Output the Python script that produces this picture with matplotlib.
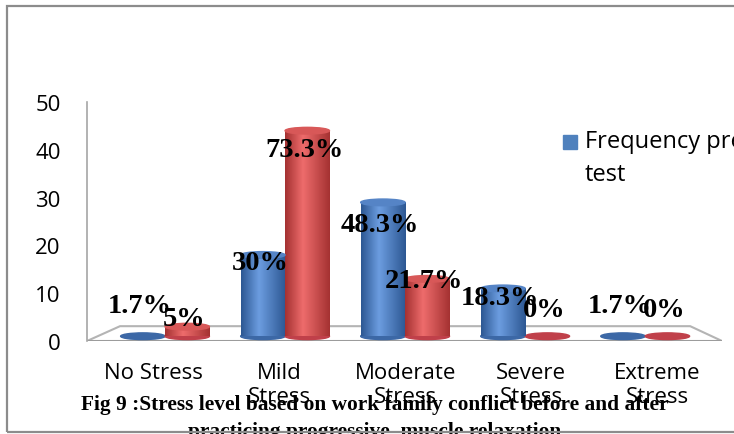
import numpy as np
import matplotlib.pyplot as plt
from matplotlib.patches import Rectangle, Ellipse, Polygon
from matplotlib.colors import LinearSegmentedColormap

# Stress categories and respondent counts (n = 60) before / after relaxation
categories = ["No Stress", "Mild\nStress", "Moderate\nStress", "Severe\nStress", "Extreme\nStress"]
pre_test = [1, 18, 29, 11, 1]
post_test = [3, 44, 13, 0, 0]
total = 60
legend_label = "Frequency pre\ntest"
caption = "Fig 9 :Stress level based on work family conflict before and after"
caption2 = "practicing progressive  muscle relaxation"

# label nudges (pixels) relative to each bar top
pre_dy = [24, -14, -29, -16, 24]
post_dy = [2, -25, -8, 25, 25]

plt.rcParams["font.family"] = "Open Sans"

fig = plt.figure(figsize=(7.34, 4.35), dpi=100)
ax = fig.add_axes([87 / 734, 93 / 435, 635 / 734, 239 / 435])

blue_map = LinearSegmentedColormap.from_list("b", [(0, "#2D5893"), (0.4, "#6C9DE0"), (1, "#2D5893")])
red_map = LinearSegmentedColormap.from_list("r", [(0, "#A53232"), (0.4, "#EE6C6C"), (1, "#A53232")])
grad = np.linspace(0, 1, 64)[None, :]

width = 0.37
base = 1.0
cap_h = 1.4


def cylinder(xc, top, cmap, cap_color, base_color):
    x0, x1 = xc - width / 2, xc + width / 2
    ax.add_patch(Ellipse((xc, base), width, cap_h, color=base_color, zorder=2))
    if top > base:
        ax.imshow(grad, cmap=cmap, extent=(x0, x1, base, top), aspect="auto", zorder=3)
        ax.add_patch(Ellipse((xc, top), width, cap_h, color=cap_color, zorder=4))


x = np.arange(len(categories))
for i in x:
    cylinder(i - width / 2, pre_test[i], blue_map, "#5584C6", "#3C68A6")
    cylinder(i + width / 2, post_test[i], red_map, "#D85858", "#C0404A")

# percentage labels
for i in x:
    for val, dy, xc in [(pre_test[i], pre_dy[i], i - width / 2), (post_test[i], post_dy[i], i + width / 2)]:
        pct = "{:g}%".format(round(val / total * 100, 1))
        ax.annotate(pct, (xc, val), xytext=(-3, dy), textcoords="offset pixels",
                    ha="center", va="baseline", fontsize=20.5, fontweight="bold",
                    family="Liberation Serif", zorder=6)

# floor of the 3D plot area
floor = Polygon([(-0.65, 0), (4.64, 0), (4.375, 3.1), (-0.375, 3.1)], closed=True,
                facecolor="white", edgecolor="#b4b4b4", lw=1.5, zorder=1)
ax.add_patch(floor)
ax.plot([-0.65, 4.64], [0, 0], color="#9a9a9a", lw=2, zorder=1.5, solid_capstyle="butt")

ax.set_xlim(-0.65, 4.64)
ax.set_ylim(0, 50)
ax.set_yticks(range(0, 51, 10))
ax.set_xticks(x + 0.05 * (x - 2))
ax.set_xticklabels(categories)
ax.tick_params(axis="both", length=0, labelsize=16)
ax.tick_params(axis="y", pad=19)
ax.tick_params(axis="x", pad=15)
for s in ["top", "right", "bottom"]:
    ax.spines[s].set_visible(False)
ax.spines["left"].set_color("#a6a6a6")
ax.spines["left"].set_linewidth(1.2)

# legend entry
fig.patches.append(Rectangle((563 / 734, 1 - 150 / 435), 14 / 734, 14 / 435,
                             transform=fig.transFigure, color="#4F81BD", figure=fig))
fig.text(585 / 734, 1 - 130 / 435, legend_label, fontsize=17, va="top",
         linespacing=1.5, ha="left")

fig.text(375 / 734, 1 - 410 / 435, caption, ha="center", va="baseline",
         family="Liberation Serif", fontweight="bold", fontsize=15.4)
fig.text(375 / 734, 1 - 437 / 435, caption2, ha="center", va="baseline",
         family="Liberation Serif", fontweight="bold", fontsize=15.4)

# outer chart border
fig.patches.append(Rectangle((6.5 / 734, 2 / 435), 1.2, 426 / 435, transform=fig.transFigure,
                             fill=False, edgecolor="#8c8c8c", lw=1.6, figure=fig, zorder=10))

fig.savefig("out.png", dpi=100)
